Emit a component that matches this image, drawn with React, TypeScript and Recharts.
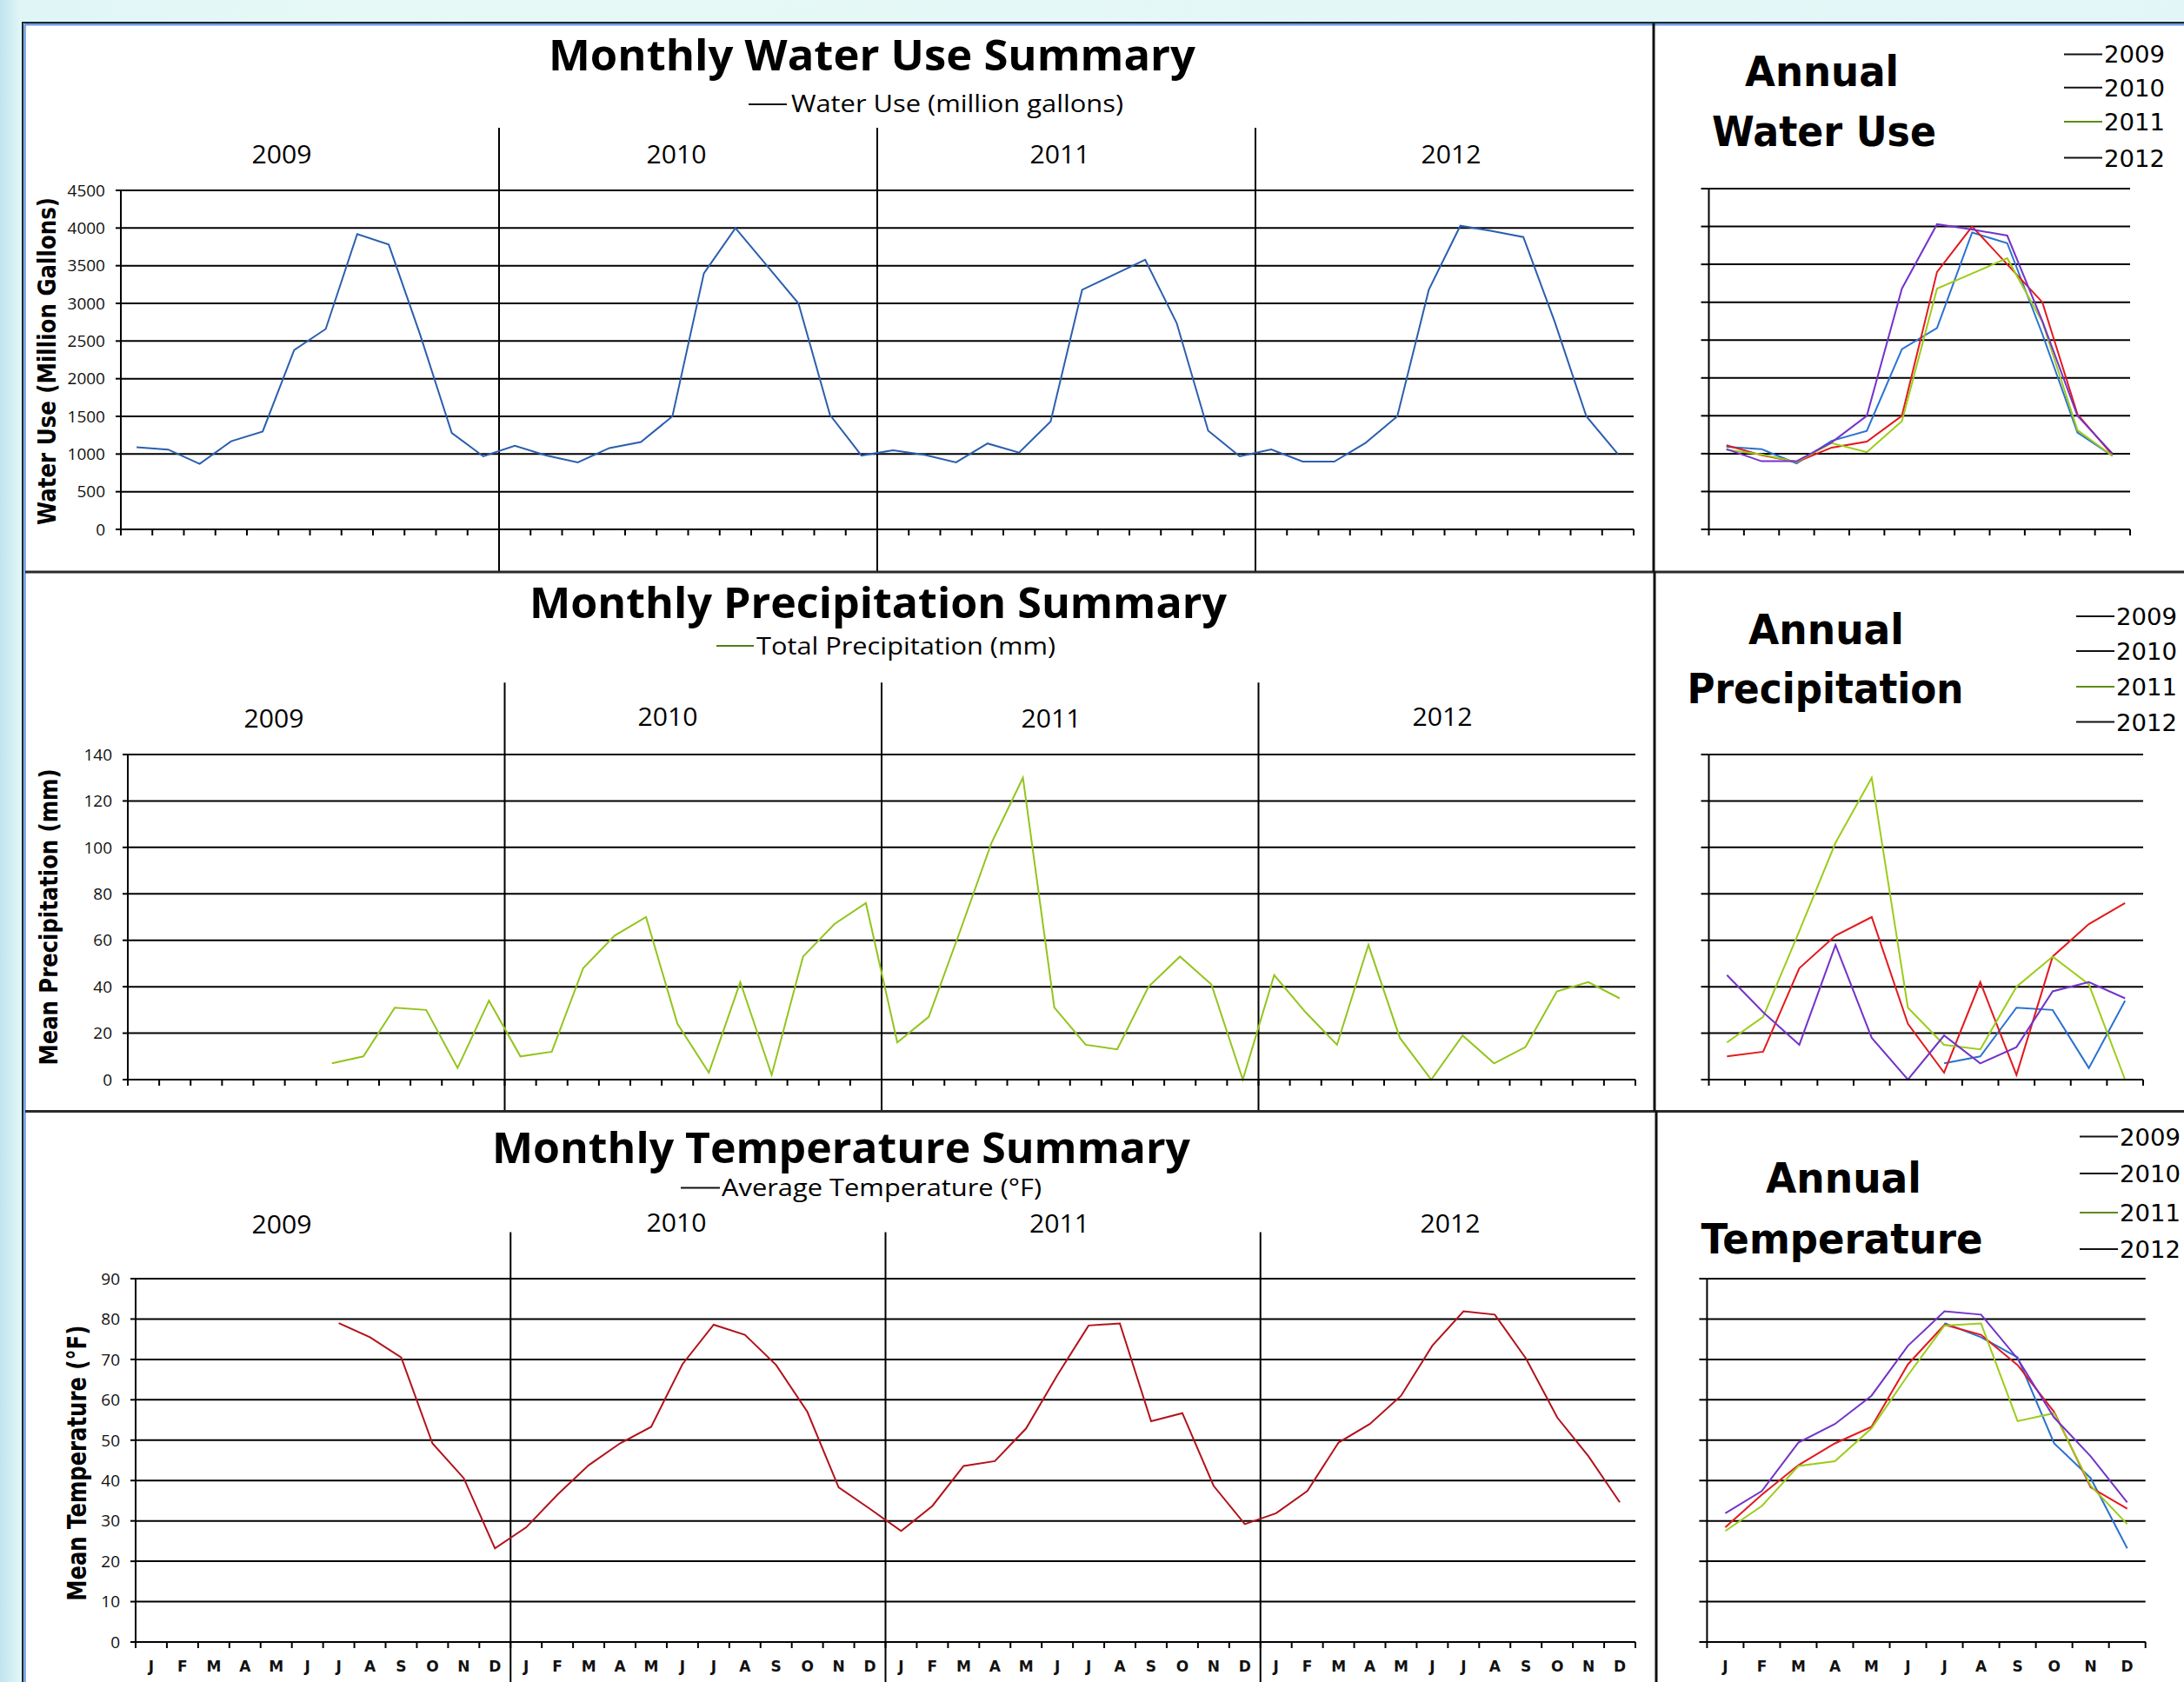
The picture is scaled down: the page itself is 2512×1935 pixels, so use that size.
import React from 'react';
import { LineChart, Line, XAxis, YAxis, CartesianGrid, ReferenceLine } from 'recharts';

const years = ['2009', '2010', '2011', '2012'];
const months = ['J', 'F', 'M', 'A', 'M', 'J', 'J', 'A', 'S', 'O', 'N', 'D'];

// water use, million gallons
const water2009 = [1090, 1060, 870, 1170, 1300, 2380, 2660, 3920, 3780, 2580, 1280, 970];
const water2010 = [1110, 980, 890, 1080, 1160, 1500, 3400, 4000, 3500, 3000, 1520, 980];
const water2011 = [1050, 990, 890, 1140, 1020, 1430, 3180, 3380, 3580, 2740, 1310, 970];
const water2012 = [1060, 900, 900, 1150, 1500, 3180, 4030, 3960, 3880, 2750, 1500, 1000];

// total precipitation, mm
const precip2009 = [null, null, null, null, null, null, 7, 10, 31, 30, 5, 34];
const precip2010 = [10, 12, 48, 62, 70, 24, 3, 42, 2, 53, 67, 76];
const precip2011 = [16, 27, 64, 102, 130, 31, 15, 13, 40, 53, 41, 0];
const precip2012 = [45, 29, 15, 58, 18, 0, 19, 7, 14, 38, 42, 35];

// average temperature, F
const temp2009 = [null, null, null, null, null, null, 79, 75.5, 70.5, 49.2, 40.6, 23.2];
const temp2010 = [28.4, 36.5, 43.8, 49.2, 53.3, 68.8, 78.6, 76.1, 68.6, 57, 38.3, 33];
const temp2011 = [27.5, 33.7, 43.6, 44.8, 52.9, 66.1, 78.4, 78.9, 54.7, 56.7, 38.7, 29.2];
const temp2012 = [31.9, 37.4, 49.4, 54, 61, 73.4, 81.9, 81.1, 70.2, 55.6, 46, 34.6];

const waterTicks = [0, 500, 1000, 1500, 2000, 2500, 3000, 3500, 4000, 4500];
const precipTicks = [0, 20, 40, 60, 80, 100, 120, 140];
const tempTicks = [0, 10, 20, 30, 40, 50, 60, 70, 80, 90];

const waterByYear = [water2009, water2010, water2011, water2012];
const precipByYear = [precip2009, precip2010, precip2011, precip2012];
const tempByYear = [temp2009, temp2010, temp2011, temp2012];

const yearColors = ['#2a72d0', '#e3191c', '#9ccc1a', '#7433c9'];
const legendDash = ['#111', '#111', '#5c8c14', '#111'];

const monthlyRows = years.flatMap((_, yi) =>
  months.map((__, mi) => ({
    x: yi * 12 + mi + 0.5,
    water: waterByYear[yi][mi],
    precip: precipByYear[yi][mi],
    temp: tempByYear[yi][mi],
  })),
);

const annualRows = months.map((_, mi) => {
  const row: Record<string, number | null> = { x: mi + 0.5 };
  years.forEach((yr, yi) => {
    row['water' + yr] = waterByYear[yi][mi];
    row['precip' + yr] = precipByYear[yi][mi];
    row['temp' + yr] = tempByYear[yi][mi];
  });
  return row;
});

const SANS = "'Open Sans', sans-serif";
const WIDE = "'DejaVu Sans', sans-serif";
const ink = '#000';
const axisStroke = { stroke: '#000', strokeWidth: 2 };
const tickFont = { fontSize: 19, fontFamily: SANS, fill: '#111' };
const monthFont = { fontSize: 17, fontWeight: 700, fontFamily: WIDE, fill: '#111' };
const blank = () => '';

type Geo = {
  left: number;
  top: number;
  width: number;
  height: number;
  yw: number;
  margin: { top: number; right: number; bottom: number; left: number };
};

type MonthlyProps = {
  g: Geo;
  dataKey: string;
  color: string;
  domain: [number, number];
  ticks: number[];
  span: [number, number];
  showMonths?: boolean;
};

function Monthly({ g, dataKey, color, domain, ticks, span, showMonths }: MonthlyProps) {
  const total = years.length * 12;
  const bounds = Array.from({ length: total + 1 }, (_, i) => i);
  const centers = monthlyRows.map((r) => r.x);
  return (
    <div style={{ position: 'absolute', left: g.left, top: g.top }}>
      <LineChart width={g.width} height={g.height} data={monthlyRows} margin={g.margin}>
        <CartesianGrid vertical={false} stroke="#000" strokeWidth={2} />
        <XAxis
          type="number"
          dataKey="x"
          domain={[0, total]}
          ticks={bounds}
          interval={0}
          tickFormatter={blank}
          tickSize={7}
          height={10}
          axisLine={axisStroke}
          tickLine={axisStroke}
        />
        {showMonths && (
          <XAxis
            xAxisId="lbl"
            type="number"
            dataKey="x"
            domain={[0, total]}
            ticks={centers}
            interval={0}
            tickFormatter={(v: number) => months[Math.floor(v) % 12]}
            tickLine={false}
            axisLine={false}
            tickSize={0}
            tickMargin={12}
            height={35}
            tick={monthFont}
          />
        )}
        <YAxis
          type="number"
          domain={domain}
          ticks={ticks}
          interval={0}
          width={g.yw}
          tickSize={6}
          tickMargin={12}
          axisLine={axisStroke}
          tickLine={axisStroke}
          tick={tickFont}
        />
        {years.slice(1).map((yr, i) => (
          <ReferenceLine
            key={yr}
            segment={[
              { x: (i + 1) * 12, y: span[0] },
              { x: (i + 1) * 12, y: span[1] },
            ]}
            stroke="#000"
            strokeWidth={2}
            ifOverflow="visible"
          />
        ))}
        <Line
          type="linear"
          dataKey={dataKey}
          stroke={color}
          strokeWidth={2}
          dot={false}
          isAnimationActive={false}
        />
      </LineChart>
    </div>
  );
}

type AnnualProps = {
  g: Geo;
  prefix: string;
  domain: [number, number];
  ticks: number[];
  showMonths?: boolean;
};

function Annual({ g, prefix, domain, ticks, showMonths }: AnnualProps) {
  const bounds = Array.from({ length: 13 }, (_, i) => i);
  const centers = annualRows.map((r) => r.x as number);
  return (
    <div style={{ position: 'absolute', left: g.left, top: g.top }}>
      <LineChart width={g.width} height={g.height} data={annualRows} margin={g.margin}>
        <CartesianGrid vertical={false} stroke="#000" strokeWidth={2} />
        <XAxis
          type="number"
          dataKey="x"
          domain={[0, 12]}
          ticks={bounds}
          interval={0}
          tickFormatter={blank}
          tickSize={7}
          height={10}
          axisLine={axisStroke}
          tickLine={axisStroke}
        />
        {showMonths && (
          <XAxis
            xAxisId="lbl"
            type="number"
            dataKey="x"
            domain={[0, 12]}
            ticks={centers}
            interval={0}
            tickFormatter={(v: number) => months[Math.floor(v)]}
            tickLine={false}
            axisLine={false}
            tickSize={0}
            tickMargin={12}
            height={35}
            tick={monthFont}
          />
        )}
        <YAxis
          type="number"
          domain={domain}
          ticks={ticks}
          interval={0}
          width={g.yw}
          tickFormatter={blank}
          tickSize={9}
          axisLine={axisStroke}
          tickLine={axisStroke}
        />
        {years.map((yr, i) => (
          <Line
            key={yr}
            type="linear"
            dataKey={prefix + yr}
            stroke={yearColors[i]}
            strokeWidth={2}
            dot={false}
            isAnimationActive={false}
          />
        ))}
      </LineChart>
    </div>
  );
}

type TxtProps = {
  x: number;
  y: number;
  len: number;
  size: number;
  weight?: number;
  family?: string;
  anchor?: 'start' | 'middle';
  rotate?: boolean;
  children: React.ReactNode;
};

function Txt({ x, y, len, size, weight = 400, family = SANS, anchor = 'start', rotate, children }: TxtProps) {
  return (
    <text
      x={x}
      y={y}
      fontSize={size}
      fontWeight={weight}
      fontFamily={family}
      textAnchor={anchor}
      textLength={len}
      lengthAdjust="spacingAndGlyphs"
      fill={ink}
      transform={rotate ? `rotate(-90 ${x} ${y})` : undefined}
    >
      {children}
    </text>
  );
}

function YearLegend({ x, baselines }: { x: number; baselines: number[] }) {
  return (
    <g>
      {years.map((yr, i) => (
        <g key={yr}>
          <line x1={x - 46} x2={x - 2} y1={baselines[i] - 10} y2={baselines[i] - 10} stroke={legendDash[i]} strokeWidth={2} />
          <Txt x={x} y={baselines[i]} len={70} size={27} family={WIDE}>
            {yr}
          </Txt>
        </g>
      ))}
    </g>
  );
}

const gWater: Geo = { left: 0, top: 140, width: 1899, height: 517, yw: 139, margin: { top: 79, right: 20, bottom: 38, left: 0 } };
const gPrecip: Geo = { left: 0, top: 770, width: 1901, height: 507, yw: 147, margin: { top: 98, right: 20, bottom: 25, left: 0 } };
const gTemp: Geo = { left: 0, top: 1400, width: 1901, height: 535, yw: 156, margin: { top: 71, right: 20, bottom: 1, left: 0 } };
const gAWater: Geo = { left: 1905, top: 140, width: 565, height: 517, yw: 60.5, margin: { top: 77, right: 20, bottom: 38, left: 0 } };
const gAPrecip: Geo = { left: 1905, top: 770, width: 580, height: 507, yw: 60.5, margin: { top: 98, right: 20, bottom: 25, left: 0 } };
const gATemp: Geo = { left: 1905, top: 1400, width: 582.7, height: 535, yw: 58.4, margin: { top: 71, right: 20, bottom: 1, left: 0 } };

const yearX = {
  water: [324, 778, 1219, 1669],
  precip: [315, 768, 1209, 1659],
  temp: [324, 778, 1218.5, 1668],
};
const yearBase = {
  water: [188, 188, 187.5, 187.5],
  precip: [836.5, 834.5, 836.5, 834.5],
  temp: [1419, 1417, 1417.5, 1417.5],
};

export default function App() {
  return (
    <div
      style={{
        position: 'absolute',
        left: 0,
        top: 0,
        width: 2512,
        height: 1935,
        overflow: 'hidden',
        background: 'linear-gradient(90deg, #bfe4f0 0px, #dff5f6 22px, #e6f9f6 400px, #e2f6f7 100%)',
      }}
    >
      <div style={{ position: 'absolute', left: 26, top: 26, width: 2486, height: 1909, background: '#fff' }} />

      <Monthly g={gWater} dataKey="water" color="#2b5fae" domain={[0, 4500]} ticks={waterTicks} span={[-560, 5330]} />
      <Monthly g={gPrecip} dataKey="precip" color="#93c41c" domain={[0, 140]} ticks={precipTicks} span={[-14, 171]} />
      <Monthly g={gTemp} dataKey="temp" color="#b3121b" domain={[0, 90]} ticks={tempTicks} span={[-10, 101.5]} showMonths />

      <Annual g={gAWater} prefix="water" domain={[0, 4500]} ticks={waterTicks} />
      <Annual g={gAPrecip} prefix="precip" domain={[0, 140]} ticks={precipTicks} />
      <Annual g={gATemp} prefix="temp" domain={[0, 90]} ticks={tempTicks} showMonths />

      <svg width={2512} height={1935} style={{ position: 'absolute', left: 0, top: 0, pointerEvents: 'none' }}>
        {/* frame */}
        <line x1={25} x2={2512} y1={26} y2={26} stroke="#1b2833" strokeWidth={2} />
        <line x1={28} x2={2512} y1={28.3} y2={28.3} stroke="#6f9ce2" strokeWidth={2.5} />
        <line x1={26} x2={26} y1={25} y2={1935} stroke="#1b2833" strokeWidth={2} />
        <line x1={28.5} x2={28.5} y1={28} y2={1935} stroke="#6f9ce2" strokeWidth={2.5} />
        <line x1={29} x2={2512} y1={658} y2={658} stroke="#2a2a2a" strokeWidth={3} />
        <line x1={29} x2={2512} y1={1278.5} y2={1278.5} stroke="#2a2a2a" strokeWidth={3} />
        <line x1={1902} x2={1902} y1={27} y2={658} stroke="#111" strokeWidth={3} />
        <line x1={1903} x2={1903} y1={658} y2={1278} stroke="#111" strokeWidth={3} />
        <line x1={1905} x2={1905} y1={1278} y2={1935} stroke="#111" strokeWidth={3} />

        {/* monthly titles */}
        <Txt x={631} y={81} len={744} size={49} weight={700}>Monthly Water Use Summary</Txt>
        <Txt x={609} y={711} len={802} size={49} weight={700}>Monthly Precipitation Summary</Txt>
        <Txt x={566} y={1338} len={803} size={49} weight={700}>Monthly Temperature Summary</Txt>

        {/* monthly legends */}
        <line x1={861} x2={905} y1={120} y2={120} stroke="#111" strokeWidth={2} />
        <Txt x={910} y={128.5} len={382} size={27}>Water Use (million gallons)</Txt>
        <line x1={824} x2={867} y1={743} y2={743} stroke="#4f7e16" strokeWidth={2} />
        <Txt x={870} y={753} len={344} size={27}>Total Precipitation (mm)</Txt>
        <line x1={783} x2={828} y1={1366.5} y2={1366.5} stroke="#111" strokeWidth={2} />
        <Txt x={830} y={1376} len={368} size={27}>Average Temperature (°F)</Txt>

        {/* year labels */}
        {years.map((yr, i) => (
          <g key={yr}>
            <Txt x={yearX.water[i]} y={yearBase.water[i]} len={69} size={29} anchor="middle">{yr}</Txt>
            <Txt x={yearX.precip[i]} y={yearBase.precip[i]} len={69} size={29} anchor="middle">{yr}</Txt>
            <Txt x={yearX.temp[i]} y={yearBase.temp[i]} len={69} size={29} anchor="middle">{yr}</Txt>
          </g>
        ))}

        {/* y axis titles */}
        <Txt x={64} y={604} len={377} size={28} weight={700} family={WIDE} rotate>Water Use (Million Gallons)</Txt>
        <Txt x={66} y={1225.5} len={341} size={28} weight={700} family={WIDE} rotate>Mean Precipitation (mm)</Txt>
        <Txt x={99} y={1841.7} len={317} size={30} weight={700} family={WIDE} rotate>Mean Temperature (°F)</Txt>

        {/* annual titles */}
        <Txt x={2007} y={99} len={177} size={48} weight={700} family={WIDE}>Annual</Txt>
        <Txt x={1969} y={168.4} len={258} size={48} weight={700} family={WIDE}>Water Use</Txt>
        <Txt x={2011} y={740.6} len={179} size={48} weight={700} family={WIDE}>Annual</Txt>
        <Txt x={1940.5} y={809} len={318} size={48} weight={700} family={WIDE}>Precipitation</Txt>
        <Txt x={2031} y={1372} len={179} size={48} weight={700} family={WIDE}>Annual</Txt>
        <Txt x={1956.6} y={1442} len={324} size={48} weight={700} family={WIDE}>Temperature</Txt>

        {/* annual legends */}
        <YearLegend x={2420} baselines={[72.4, 110.7, 150, 191.5]} />
        <YearLegend x={2434} baselines={[719, 759, 800, 840.6]} />
        <YearLegend x={2438} baselines={[1317.5, 1360, 1405, 1447]} />
      </svg>
    </div>
  );
}
